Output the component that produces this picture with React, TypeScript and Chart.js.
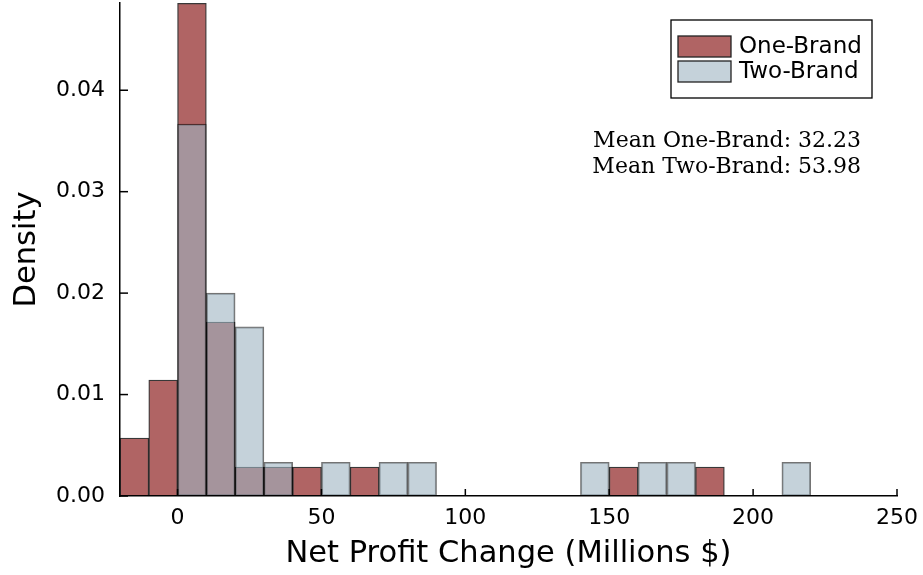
import React, { useEffect, useRef } from "react";
import { Chart, registerables } from "chart.js";

Chart.register(...registerables);

// ---- data (histogram, bin width 10) ----
const BIN_WIDTH = 10;
const oneBrandBinStarts = [-20, -10, 0, 10, 20, 30, 40, 60, 150, 180];
const oneBrandDensity = [0.00571, 0.01143, 0.04857, 0.01714, 0.00286, 0.00286, 0.00286, 0.00286, 0.00286, 0.00286];
const twoBrandBinStarts = [0, 10, 20, 30, 50, 70, 80, 140, 160, 170, 210];
const twoBrandDensity = [0.03667, 0.02, 0.01667, 0.00333, 0.00333, 0.00333, 0.00333, 0.00333, 0.00333, 0.00333, 0.00333];

const seriesLabels = ["One-Brand", "Two-Brand"];
const meanLabels = ["Mean One-Brand: 32.23", "Mean Two-Brand: 53.98"];
const annotX = 237.5;
const annotY = [0.0344, 0.0318];

const xTicks = [0, 50, 100, 150, 200, 250];
const yTicks = [0, 0.01, 0.02, 0.03, 0.04];
const xRange = [-20, 250];
const yRange = [0, 0.0486];

const xTitle = "Net Profit Change (Millions $)";
const yTitle = "Density";

const oneFill = "rgb(176,100,100)";
const oneBorder = "rgba(0,0,0,0.78)";
const twoFill = "rgba(158,180,193,0.6)";
const twoBorder = "rgba(0,0,0,0.55)";
const twoLegendFill = "rgb(197,210,218)";

const SANS = '"DejaVu Sans", sans-serif';

const decorPlugin = {
  id: "decor",
  afterDraw(chart: any) {
    const { ctx, chartArea } = chart;
    const x = chart.scales.x;
    const y = chart.scales.y;
    ctx.save();
    // inward tick marks
    ctx.strokeStyle = "#000";
    ctx.lineWidth = 1.5;
    xTicks.forEach((v) => {
      const px = x.getPixelForValue(v);
      ctx.beginPath();
      ctx.moveTo(px, chartArea.bottom);
      ctx.lineTo(px, chartArea.bottom - 7);
      ctx.stroke();
    });
    yTicks.forEach((v) => {
      const py = y.getPixelForValue(v);
      ctx.beginPath();
      ctx.moveTo(chartArea.left, py);
      ctx.lineTo(chartArea.left + 8, py);
      ctx.stroke();
    });

    // mean annotations
    ctx.font = '22px "DejaVu Serif", serif';
    ctx.fillStyle = "#000";
    ctx.textAlign = "right";
    ctx.textBaseline = "alphabetic";
    meanLabels.forEach((t, i) => {
      ctx.fillText(t, x.getPixelForValue(annotX), y.getPixelForValue(annotY[i]));
    });

    // legend
    const bx = chartArea.right - 226;
    const by = chartArea.top + 17;
    const bw = 201;
    const bh = 78;
    ctx.fillStyle = "#fff";
    ctx.fillRect(bx, by, bw, bh);
    ctx.strokeStyle = "#000";
    ctx.lineWidth = 1.3;
    ctx.strokeRect(bx, by, bw, bh);
    const fills = [oneFill, twoLegendFill];
    ctx.font = "23px " + SANS;
    ctx.textAlign = "left";
    ctx.textBaseline = "middle";
    chart.data.datasets.forEach((ds: any, i: number) => {
      const sy = by + 16 + i * 25;
      ctx.fillStyle = fills[i];
      ctx.fillRect(bx + 7, sy, 53, 21);
      ctx.strokeStyle = "#222";
      ctx.lineWidth = 1.3;
      ctx.strokeRect(bx + 7, sy, 53, 21);
      ctx.fillStyle = "#000";
      ctx.fillText(ds.label, bx + 68, sy + 11);
    });
    ctx.restore();
  },
};

export default function App() {
  const ref = useRef<HTMLCanvasElement | null>(null);

  useEffect(() => {
    if (!ref.current) return;
    const toPoints = (starts: number[], dens: number[]) =>
      starts.map((s, i) => ({ x: s + BIN_WIDTH / 2, y: dens[i] }));

    const chart = new Chart(ref.current, {
      type: "bar",
      data: {
        datasets: [
          {
            label: seriesLabels[0],
            data: toPoints(oneBrandBinStarts, oneBrandDensity),
            backgroundColor: oneFill,
            borderColor: oneBorder,
            borderWidth: 1.3,
            borderSkipped: false,
            order: 2,
          },
          {
            label: seriesLabels[1],
            data: toPoints(twoBrandBinStarts, twoBrandDensity),
            backgroundColor: twoFill,
            borderColor: twoBorder,
            borderWidth: 1.3,
            borderSkipped: false,
            order: 1,
          },
        ] as any,
      },
      options: {
        responsive: false,
        animation: false,
        events: [],
        datasets: {
          bar: {
            grouped: false,
            barPercentage: 1,
            categoryPercentage: 1,
          } as any,
        },
        layout: { padding: { top: 3, right: 26, left: 0, bottom: 0 } },
        plugins: {
          legend: { display: false },
          tooltip: { enabled: false },
        },
        scales: {
          x: {
            type: "linear",
            min: xRange[0],
            max: xRange[1],
            offset: false,
            grid: { display: false, drawTicks: false },
            border: { display: true, color: "#000", width: 1.5 },
            afterBuildTicks: (s: any) => {
              s.ticks = xTicks.map((v) => ({ value: v }));
            },
            afterFit: (s: any) => {
              s.height = 79;
              s.paddingLeft = 0;
              s.paddingRight = 0;
            },
            ticks: {
              color: "#000",
              font: { family: SANS, size: 22 },
              padding: 9,
              maxRotation: 0,
              autoSkip: false,
              callback: (v: any) => String(v),
            },
            title: {
              display: true,
              text: xTitle,
              color: "#000",
              font: { family: SANS, size: 30.5 },
              padding: { top: 0, bottom: 3 },
            },
          },
          y: {
            type: "linear",
            min: yRange[0],
            max: yRange[1],
            grid: { display: false, drawTicks: false },
            border: { display: true, color: "#000", width: 1.5 },
            afterBuildTicks: (s: any) => {
              s.ticks = yTicks.map((v) => ({ value: v }));
            },
            afterFit: (s: any) => {
              s.width = 120;
              s.paddingTop = 0;
              s.paddingBottom = 0;
            },
            ticks: {
              color: "#000",
              font: { family: SANS, size: 22 },
              padding: 15,
              autoSkip: false,
              callback: (v: any) => Number(v).toFixed(2),
            },
            title: {
              display: true,
              text: yTitle,
              color: "#000",
              font: { family: SANS, size: 30.5 },
              padding: { top: 9, bottom: 0 },
            },
          },
        },
      },
      plugins: [decorPlugin],
    });
    return () => chart.destroy();
  }, []);

  return (
    <div style={{ position: "absolute", left: 0, top: 0, width: 923, height: 575, background: "#fff" }}>
      <canvas ref={ref} width={923} height={575} style={{ display: "block" }} />
    </div>
  );
}
